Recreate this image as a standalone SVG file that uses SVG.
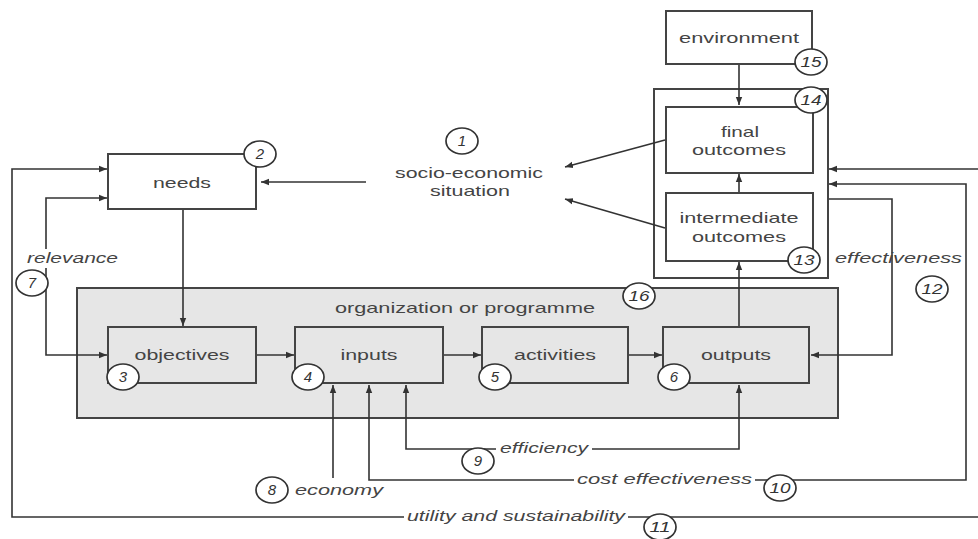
<svg xmlns="http://www.w3.org/2000/svg" width="978" height="539" viewBox="0 0 978 539">
  <defs>
    <marker id="arr" viewBox="0 0 10 10" refX="10" refY="5" markerWidth="8" markerHeight="8" markerUnits="userSpaceOnUse" orient="auto">
      <path d="M0,1 L10,5 L0,9 z" fill="#333"/>
    </marker>
  </defs>
  <style>
    .box { fill: #fff; stroke: #444; stroke-width: 2; }
    .gbox { fill: #e6e6e6; stroke: #444; stroke-width: 2; }
    .ln { fill: none; stroke: #333; stroke-width: 1.6; }
    .ar { marker-end: url(#arr); }
    .num { fill: #fff; stroke: #333; stroke-width: 1.7; }
    text { font-family: "Liberation Sans", Arial, sans-serif; font-size: 15px; fill: #444; }
    .lbl { text-anchor: middle; }
    .it { font-style: italic; }
    .nt { font-style: italic; text-anchor: middle; font-size: 15px; fill: #333; }
  </style>

  <rect width="978" height="539" fill="#fff"/>

  <!-- organisation frame (drawn first, holds the four process boxes) -->
  <g id="organization">
    <rect class="gbox" x="77" y="288" width="761" height="130"/>
    <text class="lbl" x="465" y="313" textLength="260" lengthAdjust="spacingAndGlyphs">organization or programme</text>
  </g>

  <!-- outcome frame -->
  <g id="outcomes">
    <rect class="box" x="654" y="89" width="174" height="189"/>
  </g>

  <!-- connectors -->
  <g id="connectors">
    <!-- environment to final outcomes -->
    <line class="ln ar" x1="739" y1="64" x2="739" y2="105"/>
    <!-- intermediate to final outcomes -->
    <line class="ln ar" x1="739" y1="193" x2="739" y2="174"/>
    <!-- outputs to intermediate outcomes -->
    <line class="ln ar" x1="739" y1="327" x2="739" y2="262"/>
    <!-- outcomes feed the socio-economic situation -->
    <line class="ln ar" x1="665" y1="140" x2="565" y2="167"/>
    <line class="ln ar" x1="665" y1="228" x2="565" y2="199"/>
    <!-- socio-economic situation to needs -->
    <line class="ln ar" x1="366" y1="182" x2="261" y2="182"/>
    <!-- needs to objectives -->
    <line class="ln ar" x1="183" y1="209" x2="183" y2="326"/>
    <!-- process chain -->
    <line class="ln ar" x1="256" y1="355" x2="294" y2="355"/>
    <line class="ln ar" x1="443" y1="355" x2="481" y2="355"/>
    <line class="ln ar" x1="628" y1="355" x2="662" y2="355"/>
    <!-- relevance loop -->
    <polyline class="ln ar" points="46,249 46,198 107,198"/>
    <polyline class="ln ar" points="46,268 46,355 107,355"/>
    <!-- utility and sustainability loop -->
    <polyline class="ln ar" points="404,517 12,517 12,169 107,169"/>
    <line class="ln" x1="628" y1="517" x2="978" y2="517"/>
    <line class="ln ar" x1="978" y1="169" x2="829" y2="169"/>
    <!-- cost effectiveness loop -->
    <polyline class="ln ar" points="574,480 369,480 369,385"/>
    <polyline class="ln ar" points="755,480 966,480 966,184 829,184"/>
    <!-- efficiency loop -->
    <polyline class="ln ar" points="496,449 406,449 406,385"/>
    <polyline class="ln ar" points="592,449 739,449 739,385"/>
    <!-- economy -->
    <line class="ln ar" x1="333" y1="478" x2="333" y2="385"/>
    <!-- effectiveness loop -->
    <polyline class="ln ar" points="829,199 892,199 892,355 811,355"/>
  </g>

  <g id="environment">
    <rect class="box" x="666" y="11" width="146" height="53"/>
    <text class="lbl" x="739" y="43" textLength="120" lengthAdjust="spacingAndGlyphs">environment</text>
  </g>

  <g id="final-outcomes">
    <rect class="box" x="666" y="107" width="147" height="66"/>
    <text class="lbl" x="740" y="137" textLength="38" lengthAdjust="spacingAndGlyphs">final</text>
    <text class="lbl" x="739" y="155" textLength="94" lengthAdjust="spacingAndGlyphs">outcomes</text>
  </g>

  <g id="intermediate-outcomes">
    <rect class="box" x="666" y="193" width="147" height="68"/>
    <text class="lbl" x="739" y="223" textLength="119" lengthAdjust="spacingAndGlyphs">intermediate</text>
    <text class="lbl" x="739" y="242" textLength="94" lengthAdjust="spacingAndGlyphs">outcomes</text>
  </g>

  <g id="needs">
    <rect class="box" x="108" y="154" width="148" height="55"/>
    <text class="lbl" x="182" y="188" textLength="58" lengthAdjust="spacingAndGlyphs">needs</text>
  </g>

  <g id="socio-economic">
    <text class="lbl" x="469" y="178" textLength="148" lengthAdjust="spacingAndGlyphs">socio-economic</text>
    <text class="lbl" x="470" y="196" textLength="80" lengthAdjust="spacingAndGlyphs">situation</text>
  </g>

  <g id="objectives">
    <rect class="gbox" x="108" y="327" width="148" height="56"/>
    <text class="lbl" x="182" y="360" textLength="95" lengthAdjust="spacingAndGlyphs">objectives</text>
  </g>

  <g id="inputs">
    <rect class="gbox" x="295" y="327" width="148" height="56"/>
    <text class="lbl" x="369" y="360" textLength="57" lengthAdjust="spacingAndGlyphs">inputs</text>
  </g>

  <g id="activities">
    <rect class="gbox" x="482" y="327" width="146" height="56"/>
    <text class="lbl" x="555" y="360" textLength="82" lengthAdjust="spacingAndGlyphs">activities</text>
  </g>

  <g id="outputs">
    <rect class="gbox" x="663" y="327" width="146" height="56"/>
    <text class="lbl" x="736" y="360" textLength="70" lengthAdjust="spacingAndGlyphs">outputs</text>
  </g>

  <!-- criterion labels -->
  <g id="criteria">
    <text class="it" x="27" y="263" textLength="91" lengthAdjust="spacingAndGlyphs">relevance</text>
    <text class="it" x="835" y="263" textLength="127" lengthAdjust="spacingAndGlyphs">effectiveness</text>
    <text class="it" x="295" y="495" textLength="88" lengthAdjust="spacingAndGlyphs">economy</text>
    <text class="it" x="500" y="453" textLength="88" lengthAdjust="spacingAndGlyphs">efficiency</text>
    <text class="it" x="577" y="484" textLength="175" lengthAdjust="spacingAndGlyphs">cost effectiveness</text>
    <text class="it" x="407" y="521" textLength="218" lengthAdjust="spacingAndGlyphs">utility and sustainability</text>
  </g>

  <!-- numbered markers -->
  <g id="markers">
    <g id="m1"><ellipse class="num" cx="462" cy="141" rx="16" ry="13"/><text class="nt" x="462" y="146">1</text></g>
    <g id="m2"><ellipse class="num" cx="260" cy="154" rx="16" ry="13"/><text class="nt" x="260" y="159">2</text></g>
    <g id="m3"><ellipse class="num" cx="123" cy="377" rx="16" ry="13"/><text class="nt" x="123" y="382">3</text></g>
    <g id="m4"><ellipse class="num" cx="308" cy="377" rx="16" ry="13"/><text class="nt" x="308" y="382">4</text></g>
    <g id="m5"><ellipse class="num" cx="495" cy="377" rx="16" ry="13"/><text class="nt" x="495" y="382">5</text></g>
    <g id="m6"><ellipse class="num" cx="674" cy="377" rx="16" ry="13"/><text class="nt" x="674" y="382">6</text></g>
    <g id="m7"><ellipse class="num" cx="32" cy="283" rx="16" ry="13"/><text class="nt" x="32" y="288">7</text></g>
    <g id="m8"><ellipse class="num" cx="272" cy="490" rx="16" ry="13"/><text class="nt" x="272" y="495">8</text></g>
    <g id="m9"><ellipse class="num" cx="478" cy="461" rx="16" ry="13"/><text class="nt" x="478" y="466">9</text></g>
    <g id="m10"><ellipse class="num" cx="780" cy="488" rx="16" ry="13"/><text class="nt" x="780" y="493" textLength="21" lengthAdjust="spacingAndGlyphs">10</text></g>
    <g id="m11"><ellipse class="num" cx="660" cy="527" rx="16" ry="13"/><text class="nt" x="660" y="532" textLength="21" lengthAdjust="spacingAndGlyphs">11</text></g>
    <g id="m12"><ellipse class="num" cx="932" cy="289" rx="16" ry="13"/><text class="nt" x="932" y="294" textLength="21" lengthAdjust="spacingAndGlyphs">12</text></g>
    <g id="m13"><ellipse class="num" cx="804" cy="260" rx="16" ry="13"/><text class="nt" x="804" y="265" textLength="21" lengthAdjust="spacingAndGlyphs">13</text></g>
    <g id="m14"><ellipse class="num" cx="811" cy="100" rx="16" ry="13"/><text class="nt" x="811" y="105" textLength="21" lengthAdjust="spacingAndGlyphs">14</text></g>
    <g id="m15"><ellipse class="num" cx="811" cy="62" rx="16" ry="13"/><text class="nt" x="811" y="67" textLength="21" lengthAdjust="spacingAndGlyphs">15</text></g>
    <g id="m16"><ellipse class="num" cx="639" cy="296" rx="16" ry="13"/><text class="nt" x="639" y="301" textLength="21" lengthAdjust="spacingAndGlyphs">16</text></g>
  </g>
</svg>
